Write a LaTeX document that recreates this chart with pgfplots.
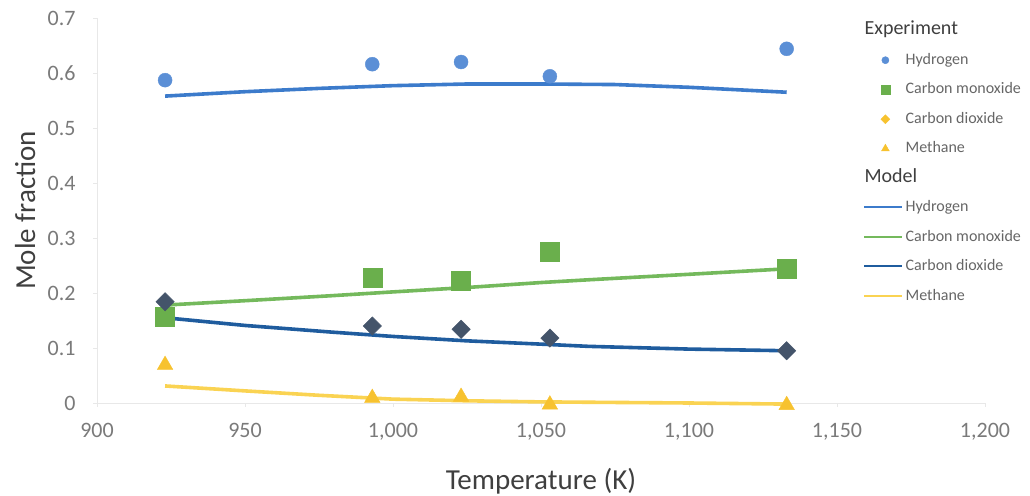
\documentclass[border=0pt]{standalone}
\usepackage{pgfplots}
\pgfplotsset{compat=1.18}
\usepackage{fontspec}
\setmainfont{Carlito}
\definecolor{hdot}{HTML}{5B8FD6}
\definecolor{hline}{HTML}{3C7BCB}
\definecolor{cosq}{HTML}{6AAF4C}
\definecolor{coline}{HTML}{74B95C}
\definecolor{cdia}{HTML}{44546A}
\definecolor{cline}{HTML}{1F5C9E}
\definecolor{mtri}{HTML}{F7C22F}
\definecolor{mline}{HTML}{FAD352}
\definecolor{ticktext}{HTML}{7A7A7A}
\definecolor{labtext}{HTML}{3F3F3F}
\definecolor{legtext}{HTML}{666666}
\pgfplotsset{
  legmark/.style={legend image code/.code={\draw[##1] plot coordinates {(21pt,4pt)};}},
  legline/.style={legend image code/.code={\draw[##1, line width=2.4pt] (0pt,4.5pt) -- (38pt,4.5pt);}},
}
\begin{document}
\begin{tikzpicture}
\begin{axis}[
  scale only axis, width=888pt, height=385pt,
  xmin=900, xmax=1200, ymin=0, ymax=0.7,
  clip=false,
  xtick={900,950,1000,1050,1100,1150,1200},
  ytick={0,0.1,0.2,0.3,0.4,0.5,0.6,0.7},
  axis x line=bottom, axis y line=left,
  axis line style={-, draw=black!9, line width=0.8pt},
  tick style={draw=black!9, line width=0.8pt},
  major tick length=4pt, tick align=outside,
  /pgf/number format/assume math mode=true,
  /pgf/number format/1000 sep={,},
  yticklabel style={/pgf/number format/fixed, /pgf/number format/precision=1},
  ticklabel style={font=\fontsize{22}{26}\selectfont, text=ticktext},
  yticklabel style={xshift=-14pt},
  xticklabel style={yshift=-13pt},
  xlabel={Temperature (K)}, ylabel={Mole fraction},
  label style={font=\fontsize{29}{34}\selectfont, text=labtext},
  xlabel style={at={(axis description cs:0.5,-0.2026)}, anchor=center},
  ylabel style={at={(axis description cs:-0.081,0.5)}, anchor=center, rotate=0},
  legend style={at={(0.8626,0.9857)}, anchor=north west, draw=none, fill=none,
    inner sep=0pt, row sep=14.5pt, column sep=2pt,
    nodes={inner sep=0pt, text height=11pt, text depth=4pt, anchor=base west},
    font=\fontsize{16}{19}\selectfont, text=legtext},
  legend cell align=left,
]
% Model lines
\addplot[hline, line width=3.6pt, forget plot] coordinates {(923,0.558)(950,0.566)(975,0.572)(1000,0.577)(1025,0.580)(1050,0.580)(1075,0.579)(1100,0.574)(1133,0.565)};
\addplot[coline, line width=3.6pt, forget plot] coordinates {(923,0.178)(950,0.186)(979,0.195)(1000,0.202)(1025,0.210)(1050,0.219)(1066,0.224)(1100,0.234)(1133,0.244)};
\addplot[cline, line width=3.6pt, forget plot] coordinates {(923,0.155)(950,0.141)(979,0.129)(1000,0.121)(1025,0.113)(1050,0.107)(1066,0.103)(1100,0.098)(1133,0.095)};
\addplot[mline, line width=3.6pt, forget plot] coordinates {(923,0.031)(950,0.022)(975,0.014)(1000,0.007)(1025,0.004)(1050,0.002)(1075,0.001)(1100,0.000)(1133,-0.002)};
% Experiment markers
\addplot[only marks, mark=*, mark size=7pt, color=hdot, forget plot] coordinates {(923,0.587)(993,0.616)(1023,0.620)(1053,0.594)(1133,0.644)};
\addplot[only marks, mark=square*, mark size=9.5pt, color=cosq, forget plot] coordinates {(923,0.157)(993,0.227)(1023,0.222)(1053,0.275)(1133,0.244)};
\addplot[only marks, mark=square*, mark size=6.5pt, color=cdia, mark options={rotate=45}, forget plot] coordinates {(923,0.184)(993,0.140)(1023,0.134)(1053,0.118)(1133,0.095)};
\addplot[only marks, mark=triangle*, mark size=9pt, color=mtri, forget plot] coordinates {(923,0.069)(993,0.009)(1023,0.011)(1053,-0.003)(1133,-0.004)};
% Legend
\addlegendimage{empty legend}
\addlegendentry{\hspace*{-41pt}{\fontsize{20}{24}\selectfont\color{labtext}Experiment}}
\addlegendimage{legmark, only marks, mark=*, mark size=3.6pt, color=hdot}
\addlegendentry{Hydrogen}
\addlegendimage{legmark, only marks, mark=square*, mark size=4.5pt, color=cosq}
\addlegendentry{Carbon monoxide}
\addlegendimage{legmark, only marks, mark=square*, mark size=3.2pt, color=mtri, mark options={rotate=45}}
\addlegendentry{Carbon dioxide}
\addlegendimage{legmark, only marks, mark=triangle*, mark size=4.5pt, color=mtri}
\addlegendentry{Methane}
\addlegendimage{empty legend}
\addlegendentry{\hspace*{-41pt}{\fontsize{20}{24}\selectfont\color{labtext}Model}}
\addlegendimage{legline, hline}
\addlegendentry{Hydrogen}
\addlegendimage{legline, coline}
\addlegendentry{Carbon monoxide}
\addlegendimage{legline, cline}
\addlegendentry{Carbon dioxide}
\addlegendimage{legline, mline}
\addlegendentry{Methane}
\end{axis}
\pgfresetboundingbox
\path[use as bounding box] ([shift={(-97pt,-93pt)}]current axis.south west) rectangle ([shift={(45pt,18pt)}]current axis.north east);
\end{tikzpicture}
\end{document}
